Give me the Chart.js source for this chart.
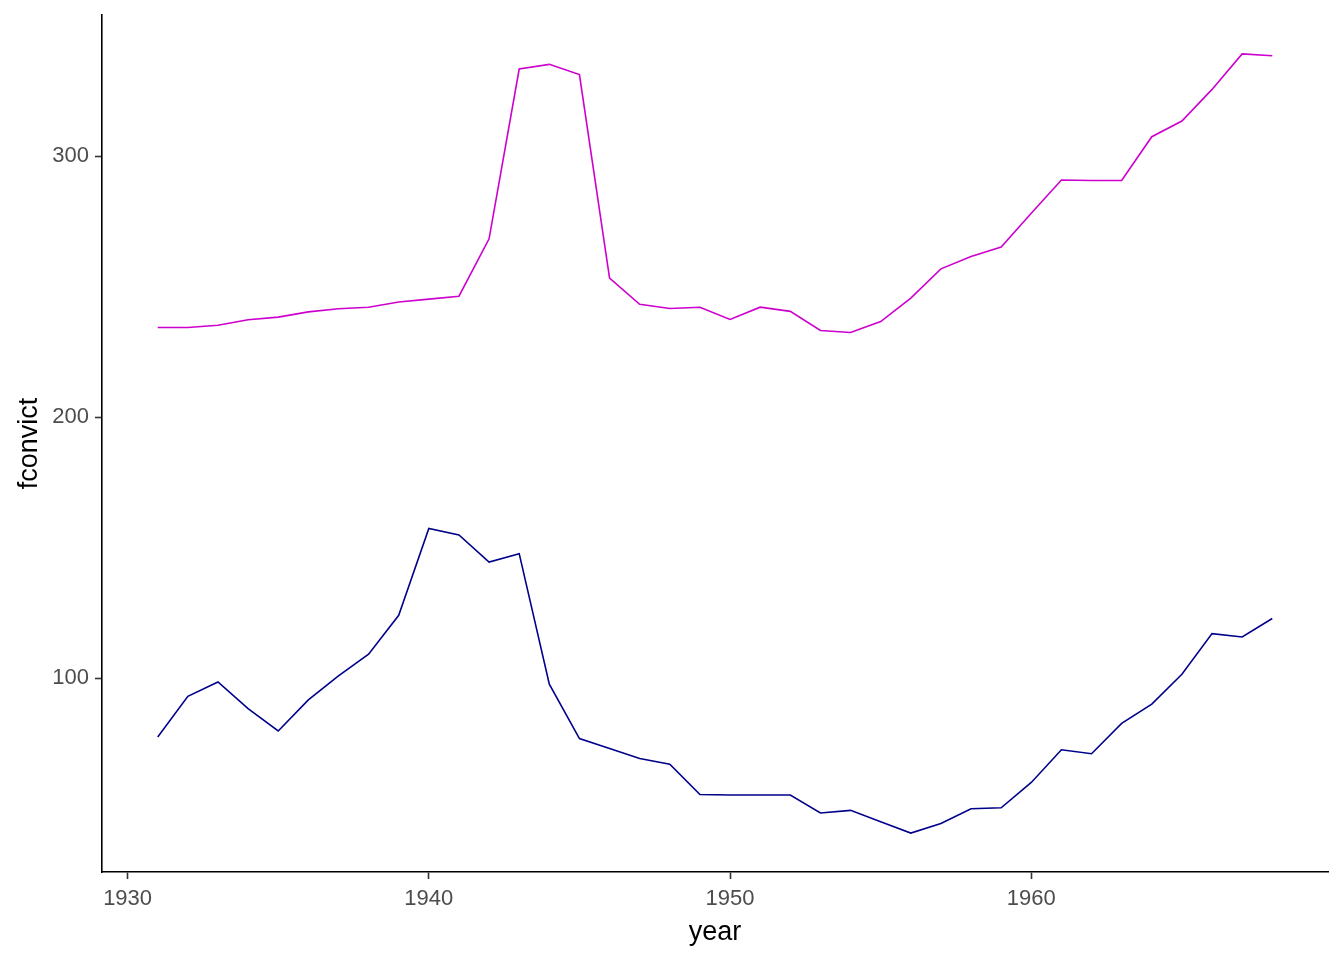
<!DOCTYPE html>
<html>
<head>
<meta charset="utf-8">
<script src="https://cdn.jsdelivr.net/npm/chart.js@4"></script>
<style>
  html, body { margin: 0; padding: 0; background: #fff; }
  #wrap { width: 1344px; height: 960px; }
</style>
</head>
<body>
<div id="wrap"><canvas id="chart" width="1344" height="960"></canvas></div>
<script>
// data
const years = [1931, 1932, 1933, 1934, 1935, 1936, 1937, 1938, 1939, 1940,
  1941, 1942, 1943, 1944, 1945, 1946, 1947, 1948, 1949, 1950,
  1951, 1952, 1953, 1954, 1955, 1956, 1957, 1958, 1959, 1960,
  1961, 1962, 1963, 1964, 1965, 1966, 1967, 1968];

const upperSeries = [234.3, 234.3, 235.2, 237.3, 238.3, 240.3, 241.5, 242.1, 244.1, 245.2,
  246.3, 268.3, 333.3, 335.1, 331.2, 253.2, 243.2, 241.6, 242.1, 237.4,
  242.1, 240.5, 233.2, 232.4, 236.6, 245.6, 256.8, 261.5, 265.1, 278.1,
  290.8, 290.6, 290.6, 307.4, 313.4, 325.5, 339.1, 338.4];

const lowerSeries = [77.5, 93.1, 98.6, 88.4, 79.8, 91.7, 100.9, 109.2, 124.1, 157.4,
  154.9, 144.5, 147.7, 97.7, 76.9, 73.1, 69.3, 67.1, 55.5, 55.3,
  55.3, 55.3, 48.4, 49.4, 45.0, 40.7, 44.4, 50.0, 50.4, 60.1,
  72.6, 71.1, 82.7, 90.1, 101.5, 117.1, 115.8, 122.9];

const xTicks = [1930, 1940, 1950, 1960];
const yTicks = [100, 200, 300];

const toPoints = (vals) => years.map((y, i) => ({ x: y, y: vals[i] }));

const tickFont = { family: 'Liberation Sans, Arial, sans-serif', size: 22 };
const titleFont = { family: 'Liberation Sans, Arial, sans-serif', size: 27 };

const config = {
  type: 'line',
  data: {
    datasets: [
      {
        label: 'upper',
        data: toPoints(upperSeries),
        borderColor: '#CD00CD',
        borderWidth: 1.6,
        pointRadius: 0,
        tension: 0,
        fill: false
      },
      {
        label: 'lower',
        data: toPoints(lowerSeries),
        borderColor: '#00008B',
        borderWidth: 1.6,
        pointRadius: 0,
        tension: 0,
        fill: false
      }
    ]
  },
  options: {
    responsive: false,
    animation: false,
    layout: { padding: { top: 15, right: 16, left: 0, bottom: 0 } },
    plugins: {
      legend: { display: false },
      tooltip: { enabled: false }
    },
    scales: {
      x: {
        type: 'linear',
        min: 1929.15,
        max: 1969.85,
        afterBuildTicks: (axis) => { axis.ticks = xTicks.map(v => ({ value: v })); },
        afterFit: (axis) => { axis.height = 88; },
        border: { display: true, color: '#000', width: 1.6 },
        grid: { drawOnChartArea: false, drawTicks: true, tickLength: 7, tickColor: '#333', tickWidth: 1.6 },
        ticks: { color: '#4D4D4D', font: tickFont, padding: 7, maxRotation: 0,
          callback: (v) => String(v) },
        title: { display: true, text: 'year', color: '#000', font: titleFont, padding: { top: 0, bottom: 11 } }
      },
      y: {
        type: 'linear',
        min: 25.8,
        max: 354.0,
        afterBuildTicks: (axis) => { axis.ticks = yTicks.map(v => ({ value: v })); },
        afterFit: (axis) => { axis.width = 102; axis.paddingTop = 0; axis.paddingBottom = 0; },
        border: { display: true, color: '#000', width: 1.6 },
        grid: { drawOnChartArea: false, drawTicks: true, tickLength: 7, tickColor: '#333', tickWidth: 1.6 },
        ticks: { color: '#4D4D4D', font: tickFont, padding: 6,
          callback: (v) => String(v) },
        title: { display: true, text: 'fconvict', color: '#000', font: titleFont, padding: { top: 13, bottom: 0 } }
      }
    }
  }
};

new Chart(document.getElementById('chart').getContext('2d'), config);
</script>
</body>
</html>
